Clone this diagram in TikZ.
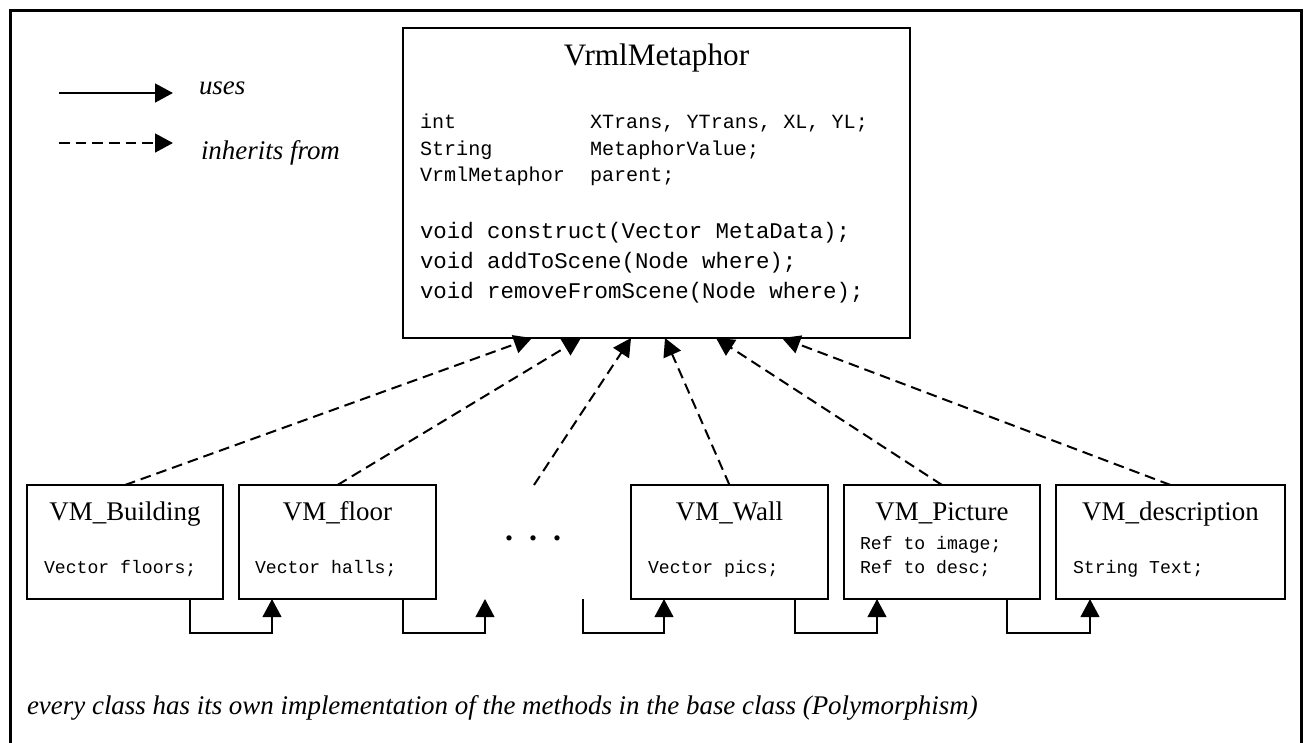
\documentclass[tikz,border=0pt]{standalone}
\usepackage{fontspec}
\setmainfont{Liberation Serif}
\setmonofont{Liberation Mono}
\usetikzlibrary{arrows.meta,calc}

\begin{document}
\begin{tikzpicture}[x=0.75pt,y=-0.75pt,
  every node/.style={inner sep=0pt,outer sep=0pt},
  outerframe/.style={line width=2.25pt,line join=miter},
  classbox/.style={draw,rectangle,line width=1.3pt},
  bigtip/.style={-{Triangle[length=13.5pt,width=14pt]}},
  uses/.style={bigtip,line width=1.5pt},
  inherits/.style={bigtip,line width=1.5pt,dash pattern=on 8pt off 4.5pt},
  maintitle/.style={font=\fontsize{23.4}{28}\selectfont,anchor=base},
  classtitle/.style={font=\fontsize{20.2}{24}\selectfont,anchor=base},
  fieldtext/.style={font=\ttfamily\fontsize{15.1}{18}\selectfont,anchor=base west},
  methodtext/.style={font=\ttfamily\fontsize{16.8}{20}\selectfont,anchor=base west},
  membertext/.style={font=\ttfamily\fontsize{13.6}{16}\selectfont,anchor=base west},
  notetext/.style={font=\itshape\fontsize{20.2}{24}\selectfont,anchor=base west}]

\useasboundingbox (0,0) rectangle (1304,743);

% page frame (open at the bottom)
\draw[outerframe] (10,760) -- (10,10) -- (1301,10) -- (1301,760);

% legend
\coordinate (usesA) at (59,93);
\coordinate (usesB) at (173,93);
\coordinate (inhA) at (59,143);
\coordinate (inhB) at (173,143);
\draw[uses,line width=2pt] (usesA) -- (usesB);
\draw[inherits,line width=2pt] (inhA) -- (inhB);
\node[notetext] (usesLbl) at (199,94) {uses};
\node[notetext] (inhLbl) at (201,159) {inherits from};

% base class
\node[classbox,line width=1.5pt,minimum width=380.25pt,minimum height=232.5pt] (base) at (656.5,183) {};
\node[maintitle] (baseTitle) at (656.5,65.5) {VrmlMetaphor};
\node[fieldtext] (fa1) at (420,128) {int};
\node[fieldtext] (fb1) at (590,128) {XTrans, YTrans, XL, YL;};
\node[fieldtext] (fa2) at (420,155) {String};
\node[fieldtext] (fb2) at (590,155) {MetaphorValue;};
\node[fieldtext] (fa3) at (420,181.5) {VrmlMetaphor};
\node[fieldtext] (fb3) at (590,181.5) {parent;};
\node[methodtext] (m1) at (420,238.5) {void construct(Vector MetaData);};
\node[methodtext] (m2) at (420,268.5) {void addToScene(Node where);};
\node[methodtext] (m3) at (420,298) {void removeFromScene(Node where);};

% derived classes
\node[classbox,minimum width=147pt,minimum height=85.5pt] (bld) at (125,542) {};
\node[classbox,minimum width=147.75pt,minimum height=85.5pt] (flr) at (337.5,542) {};
\node[classbox,minimum width=147.75pt,minimum height=85.5pt] (wall) at (729.5,542) {};
\node[classbox,minimum width=147pt,minimum height=85.5pt] (pic) at (942,542) {};
\node[classbox,minimum width=171.75pt,minimum height=85.5pt] (desc) at (1170.5,542) {};

\node[classtitle] (bldT) at (125,520) {VM\_Building};
\node[classtitle] (flrT) at (337.5,520) {VM\_floor};
\node[classtitle] (wallT) at (729.5,520) {VM\_Wall};
\node[classtitle] (picT) at (942,520) {VM\_Picture};
\node[classtitle] (descT) at (1170.5,520) {VM\_description};

\node[membertext] (bldM) at (44,573) {Vector floors;};
\node[membertext] (flrM) at (255,573) {Vector halls;};
\node[membertext] (wallM) at (648,573) {Vector pics;};
\node[membertext] (picM1) at (860,549.5) {Ref to image;};
\node[membertext] (picM2) at (860,573) {Ref to desc;};
\node[membertext] (descM) at (1073,573) {String Text;};

\node[font=\fontsize{24}{24}\bfseries\selectfont,anchor=base] (ellip) at (533,540.5) {.\hspace{12pt}.\hspace{12pt}.};

% inheritance arrows into the base class
\coordinate (in1) at ($(base.south west)!0.2544!(base.south east)$);
\coordinate (in2) at ($(base.south west)!0.3510!(base.south east)$);
\coordinate (in3) at ($(base.south west)!0.4497!(base.south east)$);
\coordinate (in4) at ($(base.south west)!0.5168!(base.south east)$);
\coordinate (in5) at ($(base.south west)!0.6174!(base.south east)$);
\coordinate (in6) at ($(base.south west)!0.7475!(base.south east)$);
\coordinate (more) at (534,485);
\draw[inherits] (bld.north) -- (in1);
\draw[inherits] (flr.north) -- (in2);
\draw[inherits] (more) -- (in3);
\draw[inherits] (wall.north) -- (in4);
\draw[inherits] (pic.north) -- (in5);
\draw[inherits] (desc.north) -- (in6);

% usage chain along the bottom
\coordinate (chainOut) at (485,599);
\coordinate (chainIn) at (583,599);
\draw[uses] ([xshift=-24.75pt]bld.south east) |- ([xshift=24.75pt,yshift=-25.5pt]flr.south west) -- ([xshift=24.75pt]flr.south west);
\draw[uses] ([xshift=-24.75pt]flr.south east) |- ([yshift=-25.5pt]chainOut) -- (chainOut);
\draw[uses] (chainIn) |- ([xshift=24.75pt,yshift=-25.5pt]wall.south west) -- ([xshift=24.75pt]wall.south west);
\draw[uses] ([xshift=-24.75pt]wall.south east) |- ([xshift=24.75pt,yshift=-25.5pt]pic.south west) -- ([xshift=24.75pt]pic.south west);
\draw[uses] ([xshift=-24.75pt]pic.south east) |- ([xshift=25.5pt,yshift=-25.5pt]desc.south west) -- ([xshift=25.5pt]desc.south west);

% footnote
\node[notetext] (note) at (27,714) {every class has its own implementation of the methods in the base class (Polymorphism)};
\end{tikzpicture}
\end{document}
